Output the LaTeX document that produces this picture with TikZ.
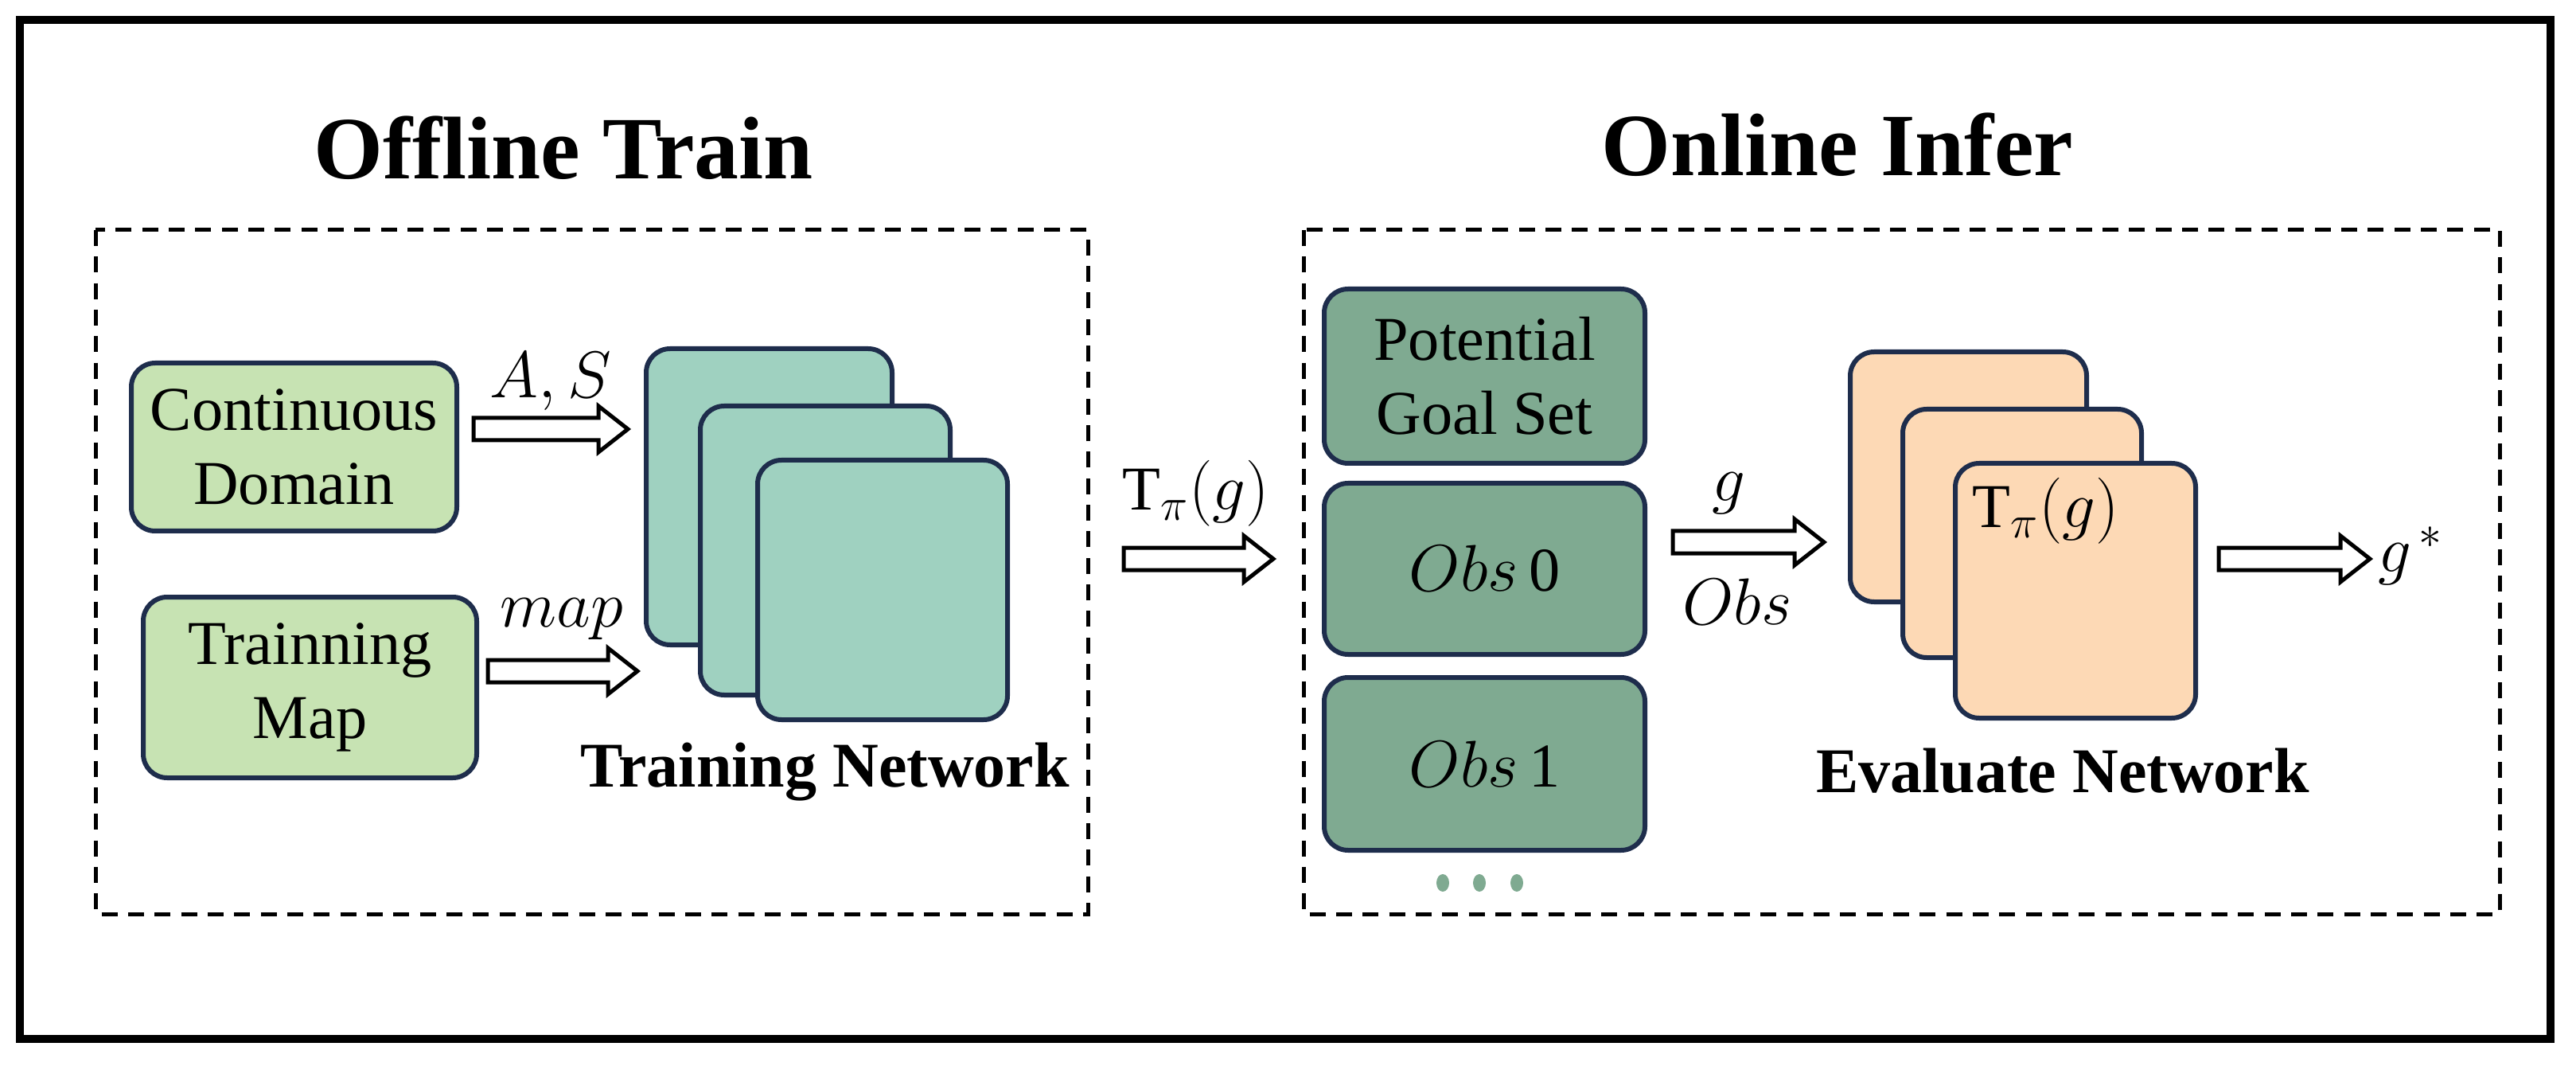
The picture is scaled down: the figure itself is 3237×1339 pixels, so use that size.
\documentclass[tikz,border=0pt]{standalone}
\usepackage{fontspec}
\setmainfont{Liberation Serif}
\usetikzlibrary{shapes.geometric}
\begin{document}
\begin{tikzpicture}[x=0.3pt,y=-0.3pt,
  box/.style={draw=navy,line width=1.8pt,rounded corners=9pt,inner sep=0pt,align=center,font=\fontsize{23.5}{28}\selectfont},
  lg/.style={box,fill=lightg},
  dg/.style={box,fill=darkg},
  tl/.style={box,fill=teal1},
  pc/.style={box,fill=peach},
  dbox/.style={draw,line width=1.5pt,dash pattern=on 6pt off 4pt},
  lab/.style={font=\fontsize{23.5}{28}\selectfont},
  ttl/.style={font=\fontsize{33.5}{40}\selectfont\bfseries},
  sub/.style={font=\fontsize{24}{28}\selectfont\bfseries},
  barrow/.style={draw,fill=white,line width=1.5pt,line join=miter}]
\definecolor{navy}{HTML}{1E2D4C}
\definecolor{lightg}{HTML}{C7E3B3}
\definecolor{darkg}{HTML}{7FAA91}
\definecolor{teal1}{HTML}{9FD1C0}
\definecolor{peach}{HTML}{FDD9B5}
\newcommand\blockarr[3]{\draw[barrow] (#1,#3-14) -- (#2-37,#3-14) -- (#2-37,#3-29) -- (#2,#3) -- (#2-37,#3+29) -- (#2-37,#3+14) -- (#1,#3+14) -- cycle;}
\useasboundingbox (0,0) rectangle (3237,1339);
\draw[line width=3pt] (25,25) rectangle (3205,1305);
% titles
\node[ttl] (t1) at (708,186) {Offline Train};
\node[ttl] (t2) at (2309,182) {Online Infer};
% dashed boxes
\draw[dbox] (120,289) rectangle (1367,1148);
\draw[dbox] (1638,289) rectangle (3141,1148);
% left inputs
\node[lg,minimum width=409*0.3pt,minimum height=211*0.3pt] (cd) at (369.5,561.5) {Continuous\\Domain};
\node[lg,minimum width=419*0.3pt,minimum height=227*0.3pt] (tm) at (389.5,863.5) {Trainning\\Map};
% training network stack
\node[tl,minimum width=309*0.3pt,minimum height=372*0.3pt] (n1) at (966.5,624) {};
\node[tl,minimum width=314*0.3pt,minimum height=363*0.3pt] (n2) at (1037,691.5) {};
\node[tl,minimum width=314*0.3pt,minimum height=326*0.3pt] (n3) at (1109,741) {};
\node[sub] (tn) at (1037,970) {Training Network};
\blockarr{595}{789}{539}
\node[lab] (as) at (692,479) {$A,S$};
\blockarr{613}{801}{843}
\node[lab] (mp) at (706,778) {$map$};
% middle arrow
\blockarr{1412}{1600}{702}
\node[lab] (tp) at (1503,620) {T$_\pi(g)$};
% right column
\node[dg,minimum width=403*0.3pt,minimum height=219*0.3pt] (pg) at (1865.5,472.5) {Potential\\Goal Set};
\node[dg,minimum width=403*0.3pt,minimum height=215*0.3pt] (o0) at (1865.5,714.5) {$Obs$\,0};
\node[dg,minimum width=403*0.3pt,minimum height=217*0.3pt] (o1) at (1865.5,959.5) {$Obs$\,1};
\foreach \xx/\nm in {1813/d1,1859/d2,1906/d3}
  \node[fill=darkg,ellipse,minimum width=16*0.3pt,minimum height=22*0.3pt,inner sep=0pt] (\nm) at (\xx,1109) {};
\blockarr{2102}{2292}{681}
\node[lab] (g1) at (2172,620) {$g$};
\node[lab] (ob) at (2183,756) {$Obs$};
% evaluate stack
\node[pc,minimum width=297*0.3pt,minimum height=314*0.3pt] (e1) at (2473.5,599) {};
\node[pc,minimum width=300*0.3pt,minimum height=312*0.3pt] (e2) at (2541,670) {};
\node[pc,minimum width=302*0.3pt,minimum height=320*0.3pt] (e3) at (2608,742) {};
\node[lab] (tp2) at (2571,642) {T$_\pi(g)$};
\node[sub] (en) at (2592,968) {Evaluate Network};
\blockarr{2788}{2978}{702}
\node[lab] (gs) at (3029,698) {$g^{\,*}$};
\end{tikzpicture}
\end{document}
